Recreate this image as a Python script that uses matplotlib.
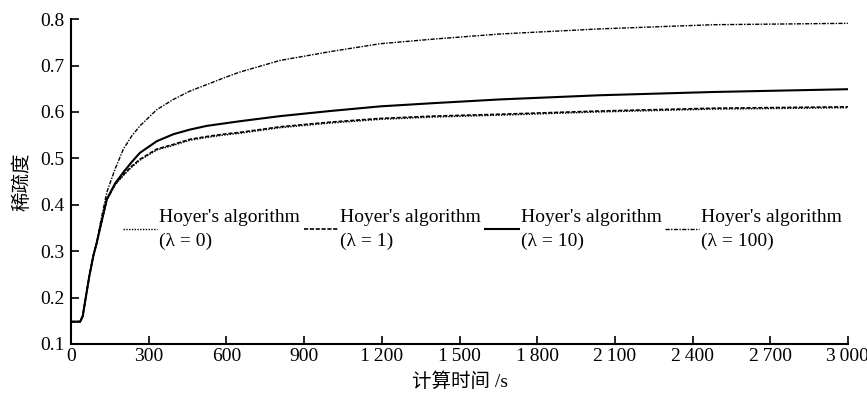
import matplotlib
matplotlib.use('Agg')
import matplotlib.pyplot as plt

plt.rcParams['font.family'] = ['Liberation Serif', 'DejaVu Serif']

# time axis (s) and sparsity values
t = [0, 35, 45, 54, 70, 86, 99, 112, 138, 170, 202, 234, 266, 331, 395,
     459, 524, 588, 652, 807, 1000, 1193, 1400, 1656, 2042, 2479, 3000]
sp_l0 = [0.148, 0.148, 0.160, 0.191, 0.245, 0.290, 0.318, 0.350, 0.410,
         0.443, 0.463, 0.481, 0.496, 0.518, 0.528, 0.539, 0.545, 0.550,
         0.554, 0.566, 0.576, 0.584, 0.589, 0.593, 0.600, 0.606, 0.609]
sp_l1 = [0.148, 0.148, 0.160, 0.191, 0.245, 0.290, 0.318, 0.350, 0.411,
         0.444, 0.465, 0.483, 0.498, 0.520, 0.530, 0.541, 0.547, 0.552,
         0.556, 0.568, 0.578, 0.586, 0.591, 0.595, 0.602, 0.608, 0.611]
sp_l10 = [0.148, 0.148, 0.160, 0.191, 0.245, 0.290, 0.318, 0.350, 0.412,
          0.446, 0.470, 0.492, 0.512, 0.537, 0.552, 0.562, 0.570, 0.575,
          0.580, 0.591, 0.602, 0.612, 0.619, 0.627, 0.636, 0.643, 0.649]
sp_l100 = [0.148, 0.148, 0.160, 0.191, 0.246, 0.292, 0.318, 0.358, 0.427,
           0.477, 0.520, 0.548, 0.570, 0.605, 0.627, 0.645, 0.659, 0.673,
           0.686, 0.711, 0.730, 0.747, 0.757, 0.768, 0.779, 0.788, 0.791]

labels = ["Hoyer's algorithm\n(λ = 0)", "Hoyer's algorithm\n(λ = 1)",
          "Hoyer's algorithm\n(λ = 10)", "Hoyer's algorithm\n(λ = 100)"]
xticks = [0, 300, 600, 900, 1200, 1500, 1800, 2100, 2400, 2700, 3000]
xtick_labels = ['0', '300', '600', '900', '1\u2009200', '1\u2009500',
                '1\u2009800', '2\u2009100', '2\u2009400', '2\u2009700',
                '3\u2009000']
yticks = [0.1, 0.2, 0.3, 0.4, 0.5, 0.6, 0.7, 0.8]

fig = plt.figure(figsize=(8.67, 3.99), dpi=100)
ax = fig.add_axes([0.082, 0.138, 0.896, 0.814])

l0, = ax.plot(t, sp_l0, color='black', lw=1.0, linestyle=(0, (1, 1)))
l1, = ax.plot(t, sp_l1, color='black', lw=1.2, linestyle=(0, (2.5, 1)))
l10, = ax.plot(t, sp_l10, color='black', lw=1.5, linestyle='-')
l100, = ax.plot(t, sp_l100, color='black', lw=1.0,
                linestyle=(0, (3, 1, 1, 1)))

leg = ax.legend([l0, l1, l10, l100], labels, ncol=4, frameon=False,
                loc='center left', bbox_to_anchor=(0.067, 0.353),
                fontsize=14, handlelength=1.75, handletextpad=0.1,
                columnspacing=0.2, labelspacing=0.1, borderpad=0,
                borderaxespad=0)
for txt in leg.get_texts():
    txt.set_linespacing(1.5)

ax.set_xlim(0, 3000)
ax.set_ylim(0.1, 0.8)
ax.set_xticks(xticks)
ax.set_xticklabels(xtick_labels)
ax.set_yticks(yticks)
ax.set_yticklabels([f'{v:.1f}' for v in yticks])
ax.tick_params(direction='in', length=6, width=1.2, labelsize=14)
ax.tick_params(axis='y', pad=5)
ax.tick_params(axis='x', pad=3)

for s in ['top', 'right']:
    ax.spines[s].set_visible(False)
for s in ['left', 'bottom']:
    ax.spines[s].set_linewidth(1.5)

ax.set_xlabel('计算时间 /s', fontsize=14, labelpad=5,
              family=['Liberation Serif', 'Noto Sans CJK SC'])
ax.set_ylabel('稀疏度', fontsize=14, labelpad=5,
              family=['Noto Sans CJK SC', 'Liberation Serif'])

fig.savefig('out.png', dpi=100)
